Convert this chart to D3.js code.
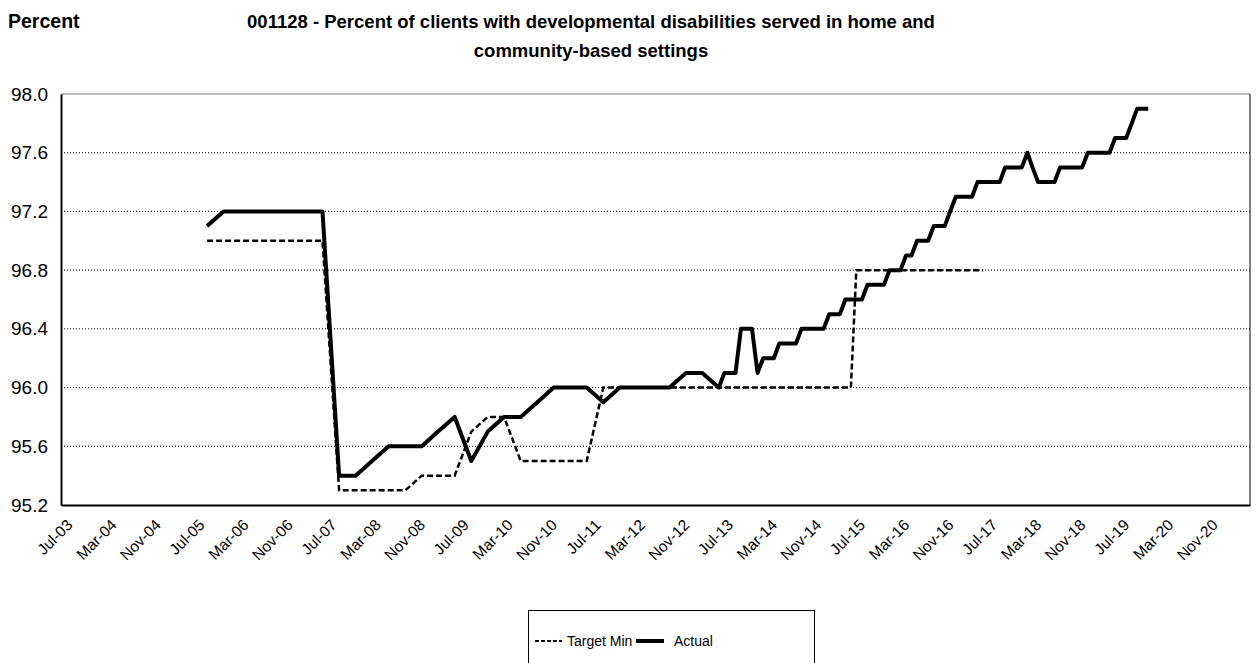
<!DOCTYPE html>
<html>
<head>
<meta charset="utf-8">
<script src="https://cdn.jsdelivr.net/npm/d3@7"></script>
<style>
  body { margin: 0; background: #fff; font-family: "Liberation Sans", Arial, sans-serif; }
</style>
</head>
<body>
<div id="chart"></div>
<script>
// Periodos: trimestral hasta jun-13, mensual desde jul-13
const dates = [
  "2005-09", "2005-12",
  "2006-03", "2006-06", "2006-09", "2006-12",
  "2007-03", "2007-06", "2007-09", "2007-12",
  "2008-03", "2008-06", "2008-09", "2008-12",
  "2009-03", "2009-06", "2009-09", "2009-12",
  "2010-03", "2010-06", "2010-09", "2010-12",
  "2011-03", "2011-06", "2011-09", "2011-12",
  "2012-03", "2012-06", "2012-09", "2012-12",
  "2013-03", "2013-06",
  "2013-07", "2013-08", "2013-09", "2013-10", "2013-11", "2013-12",
  "2014-01", "2014-02", "2014-03", "2014-04", "2014-05", "2014-06", "2014-07", "2014-08", "2014-09", "2014-10", "2014-11", "2014-12",
  "2015-01", "2015-02", "2015-03", "2015-04", "2015-05", "2015-06", "2015-07", "2015-08", "2015-09", "2015-10", "2015-11", "2015-12",
  "2016-01", "2016-02", "2016-03", "2016-04", "2016-05", "2016-06", "2016-07", "2016-08", "2016-09", "2016-10", "2016-11", "2016-12",
  "2017-01", "2017-02", "2017-03", "2017-04", "2017-05", "2017-06", "2017-07", "2017-08", "2017-09", "2017-10", "2017-11", "2017-12",
  "2018-01", "2018-02", "2018-03", "2018-04", "2018-05", "2018-06", "2018-07", "2018-08", "2018-09", "2018-10", "2018-11", "2018-12",
  "2019-01", "2019-02", "2019-03", "2019-04", "2019-05", "2019-06", "2019-07", "2019-08", "2019-09", "2019-10", "2019-11", "2019-12"
];

const actual = [
  97.1, 97.2,
  97.2, 97.2, 97.2, 97.2,
  97.2, 97.2, 95.4, 95.4,
  95.5, 95.6, 95.6, 95.6,
  95.7, 95.8, 95.5, 95.7,
  95.8, 95.8, 95.9, 96.0,
  96.0, 96.0, 95.9, 96.0,
  96.0, 96.0, 96.0, 96.1,
  96.1, 96.0,
  96.1, 96.1, 96.1, 96.4, 96.4, 96.4,
  96.1, 96.2, 96.2, 96.2, 96.3, 96.3, 96.3, 96.3, 96.4, 96.4, 96.4, 96.4,
  96.4, 96.5, 96.5, 96.5, 96.6, 96.6, 96.6, 96.6, 96.7, 96.7, 96.7, 96.7,
  96.8, 96.8, 96.8, 96.9, 96.9, 97.0, 97.0, 97.0, 97.1, 97.1, 97.1, 97.2,
  97.3, 97.3, 97.3, 97.3, 97.4, 97.4, 97.4, 97.4, 97.4, 97.5, 97.5, 97.5,
  97.5, 97.6, 97.5, 97.4, 97.4, 97.4, 97.4, 97.5, 97.5, 97.5, 97.5, 97.5,
  97.6, 97.6, 97.6, 97.6, 97.6, 97.7, 97.7, 97.7, 97.8, 97.9, 97.9, 97.9
];

// Target Min termina en jun-17
const targetMin = [
  97.0, 97.0,
  97.0, 97.0, 97.0, 97.0,
  97.0, 97.0, 95.3, 95.3,
  95.3, 95.3, 95.3, 95.4,
  95.4, 95.4, 95.7, 95.8,
  95.8, 95.5, 95.5, 95.5,
  95.5, 95.5, 96.0, 96.0,
  96.0, 96.0, 96.0, 96.0,
  96.0, 96.0,
  96.0, 96.0, 96.0, 96.0, 96.0, 96.0,
  96.0, 96.0, 96.0, 96.0, 96.0, 96.0, 96.0, 96.0, 96.0, 96.0, 96.0, 96.0,
  96.0, 96.0, 96.0, 96.0, 96.0, 96.0, 96.8, 96.8, 96.8, 96.8, 96.8, 96.8,
  96.8, 96.8, 96.8, 96.8, 96.8, 96.8, 96.8, 96.8, 96.8, 96.8, 96.8, 96.8,
  96.8, 96.8, 96.8, 96.8, 96.8, 96.8
];

const yTicks = [95.2, 95.6, 96.0, 96.4, 96.8, 97.2, 97.6, 98.0];
const titleLines = [
  "001128 - Percent of clients with developmental disabilities served in home and",
  "community-based settings"
];

const width = 1257;
const height = 663;
const margin = { top: 94, right: 7, bottom: 158, left: 61 };

const svg = d3.select("#chart")
  .append("svg")
  .attr("width", width)
  .attr("height", height);

const parseMonth = d3.timeParse("%Y-%m");
// cada punto se sitúa a mitad de su mes
const midMonth = s => d3.timeDay.offset(parseMonth(s), 15);

const x = d3.scaleTime()
  .domain([new Date(2003, 6, 1), new Date(2021, 6, 1)])
  .range([margin.left, width - margin.right]);

const y = d3.scaleLinear()
  .domain([95.2, 98.0])
  .range([height - margin.bottom, margin.top]);

// Títulos
svg.append("text")
  .attr("x", 8).attr("y", 28)
  .attr("font-size", 19.5).attr("font-weight", "bold")
  .text("Percent");

svg.append("g")
  .selectAll("text")
  .data(titleLines)
  .join("text")
  .attr("x", 591)
  .attr("y", (d, i) => 28 + i * 29)
  .attr("text-anchor", "middle")
  .attr("font-size", 18.5).attr("font-weight", "bold")
  .text(d => d);

// Rejilla
svg.append("g")
  .selectAll("line")
  .data(yTicks.filter(d => d > 95.2 && d < 98.0))
  .join("line")
  .attr("x1", margin.left).attr("x2", width - margin.right)
  .attr("y1", d => y(d)).attr("y2", d => y(d))
  .attr("stroke", "#000")
  .attr("stroke-width", 1)
  .attr("stroke-dasharray", "1,2");

// Borde superior y derecho
svg.append("line")
  .attr("x1", margin.left).attr("x2", width - margin.right)
  .attr("y1", y(98.0)).attr("y2", y(98.0))
  .attr("stroke", "#777").attr("stroke-width", 1);
svg.append("line")
  .attr("x1", width - margin.right).attr("x2", width - margin.right)
  .attr("y1", margin.top).attr("y2", height - margin.bottom)
  .attr("stroke", "#000").attr("stroke-width", 1);

// Eje Y
const yAxis = svg.append("g")
  .attr("transform", `translate(${margin.left},0)`)
  .call(d3.axisLeft(y).tickValues(yTicks).tickFormat(d3.format(".1f")).tickSize(0).tickPadding(13));
yAxis.select(".domain").attr("stroke", "#000").attr("stroke-width", 2);
yAxis.selectAll("text").attr("font-size", 19).attr("font-family", "Liberation Sans, Arial, sans-serif").attr("fill", "#000");

// Eje X
const xTicks = d3.timeMonth.range(new Date(2003, 6, 1), new Date(2020, 11, 1), 8);
const xAxis = svg.append("g")
  .attr("transform", `translate(0,${height - margin.bottom})`)
  .call(d3.axisBottom(x).tickValues(xTicks).tickFormat(d3.timeFormat("%b-%y")).tickSize(0));
xAxis.select(".domain").attr("stroke", "#000").attr("stroke-width", 2);
xAxis.selectAll("text")
  .attr("font-size", 15.5)
  .attr("font-family", "Liberation Sans, Arial, sans-serif")
  .attr("fill", "#000")
  .attr("text-anchor", "end")
  .attr("dy", null)
  .attr("y", 0)
  .attr("transform", "translate(12,21) rotate(-45)");

// Series
const serie = values => values.map((v, i) => ({ date: midMonth(dates[i]), value: v }));

const line = d3.line()
  .x(d => x(d.date))
  .y(d => y(d.value));

svg.append("path")
  .datum(serie(targetMin))
  .attr("fill", "none")
  .attr("stroke", "#000")
  .attr("stroke-width", 2.5)
  .attr("stroke-dasharray", "6,3")
  .attr("d", line);

svg.append("path")
  .datum(serie(actual))
  .attr("fill", "none")
  .attr("stroke", "#000")
  .attr("stroke-width", 4)
  .attr("stroke-linejoin", "round")
  .attr("d", line);

// Leyenda
const legend = svg.append("g").attr("transform", "translate(528,610)");
legend.append("rect")
  .attr("x", 0.5).attr("y", 0.5)
  .attr("width", 286).attr("height", 60)
  .attr("fill", "#fff").attr("stroke", "#000");

legend.append("line")
  .attr("x1", 7).attr("x2", 34).attr("y1", 31).attr("y2", 31)
  .attr("stroke", "#000").attr("stroke-width", 2)
  .attr("stroke-dasharray", "4,2");
legend.append("text")
  .attr("x", 39).attr("y", 36)
  .attr("font-size", 14)
  .text("Target Min");

legend.append("line")
  .attr("x1", 108).attr("x2", 136).attr("y1", 31).attr("y2", 31)
  .attr("stroke", "#000").attr("stroke-width", 4);
legend.append("text")
  .attr("x", 146).attr("y", 36)
  .attr("font-size", 14)
  .text("Actual");
</script>
</body>
</html>
